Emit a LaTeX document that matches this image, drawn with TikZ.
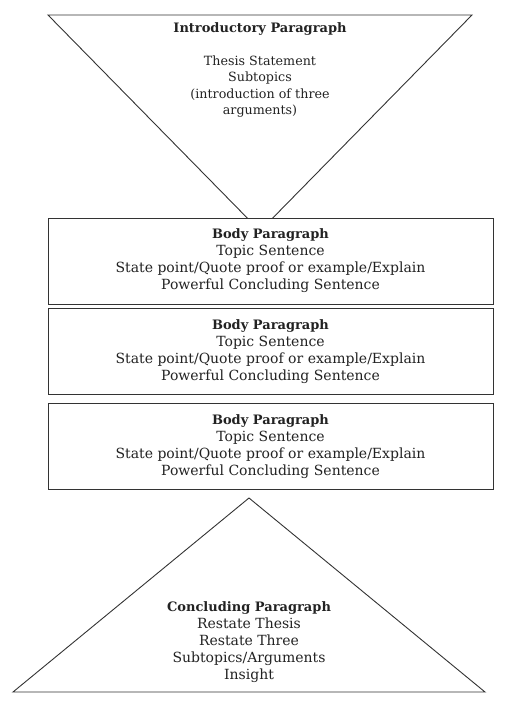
\documentclass[tikz,border=0pt]{standalone}
\usepackage{fontspec}
\setmainfont{DejaVu Serif}
\usetikzlibrary{positioning}
\definecolor{essayline}{HTML}{333333}
\definecolor{essaytext}{HTML}{222222}
\newcommand{\parttitle}[1]{{\fontsize{13}{17}\selectfont\textbf{#1}}}
\tikzset{
  bodybox/.style={
    draw=essayline, fill=white, rectangle, line width=0.9pt,
    minimum width=445pt, minimum height=86pt, align=center,
    font=\fontsize{14}{17}\selectfont, text=essaytext
  },
  shapeline/.style={draw=essayline, line width=0.9pt, line join=miter},
  blocktext/.style={align=center, font=\fontsize{14}{17}\selectfont, text=essaytext, inner sep=0pt}
}

\begin{document}
\begin{tikzpicture}[x=1pt, y=-1pt]
\useasboundingbox (0,0) rectangle (525,705);

% introductory funnel (tip hidden behind first box)
\draw[shapeline] (48,15) -- (472,15) -- (260,231) -- cycle;
\node[blocktext] (introtitle) at (260,29) {\parttitle{Introductory Paragraph}};
\node[blocktext, font=\fontsize{12.7}{16.5}\selectfont, below=20pt of introtitle] (introbody)
  {Thesis Statement\\Subtopics\\(introduction of three\\arguments)};

% body paragraphs
\node[bodybox] (body1) at (270.5,261)
  {\parttitle{Body Paragraph}\\Topic Sentence\\State point/Quote proof or example/Explain\\Powerful Concluding Sentence};
\node[bodybox, below=4pt of body1] (body2)
  {\parttitle{Body Paragraph}\\Topic Sentence\\State point/Quote proof or example/Explain\\Powerful Concluding Sentence};
\node[bodybox, below=8pt of body2] (body3)
  {\parttitle{Body Paragraph}\\Topic Sentence\\State point/Quote proof or example/Explain\\Powerful Concluding Sentence};

% concluding pyramid
\draw[shapeline] (249,498) -- (485,692) -- (13,692) -- cycle;
\node[blocktext] (conclusion) at (249,642)
  {\parttitle{Concluding Paragraph}\\Restate Thesis\\Restate Three\\Subtopics/Arguments\\Insight};
\end{tikzpicture}
\end{document}
